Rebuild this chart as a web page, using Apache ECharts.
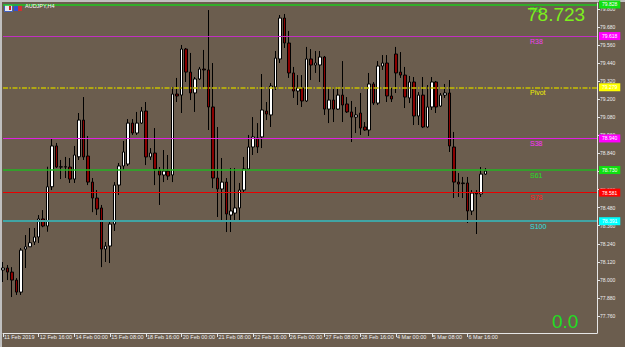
<!DOCTYPE html>
<html><head><meta charset="utf-8">
<script src="https://cdn.jsdelivr.net/npm/echarts@6/dist/echarts.min.js"></script>
<style>html,body{margin:0;padding:0;background:#6b5d4e;}#c{width:625px;height:347px;}</style>
</head><body><div id="c"></div>
<script>
const symbolName = 'AUDJPY,H4';
const timeLabels = ['11 Feb 2019','12 Feb 16:00','14 Feb 00:00','15 Feb 08:00','18 Feb 16:00','20 Feb 00:00','21 Feb 08:00','22 Feb 16:00','26 Feb 00:00','27 Feb 08:00','28 Feb 16:00','4 Mar 00:00','5 Mar 08:00','6 Mar 16:00'];
const barsPerLabel = 8;
const slotCount = 134;
const opens = [78.066,78.079,78.052,77.999,77.919,78.205,78.220,78.252,78.285,78.405,78.358,78.619,78.890,78.750,78.752,78.750,78.670,78.818,79.062,78.823,78.650,78.544,78.478,78.205,78.225,78.371,78.630,78.757,78.770,79.042,78.976,79.042,79.122,78.817,78.843,78.730,78.697,78.723,78.697,79.235,79.228,79.534,79.381,79.242,79.335,79.401,79.395,79.149,78.677,78.604,78.650,78.431,78.444,78.478,78.597,78.737,78.883,78.943,78.950,79.122,79.096,79.282,79.468,79.740,79.574,79.375,79.255,79.275,79.189,79.468,79.428,79.428,79.481,79.135,79.195,79.135,79.228,79.169,79.116,79.082,79.109,79.016,78.996,79.302,79.175,79.421,79.441,79.222,79.501,79.381,79.361,79.209,79.315,79.089,79.228,79.016,79.149,79.315,79.155,79.228,79.242,78.883,78.650,78.644,78.644,78.458,78.577,78.571,78.703];
const closes = [78.079,78.052,77.999,77.919,78.198,78.220,78.247,78.285,78.405,78.358,78.619,78.890,78.750,78.752,78.750,78.670,78.830,79.062,78.817,78.650,78.544,78.471,78.205,78.225,78.371,78.630,78.757,78.850,79.042,78.976,79.042,79.122,78.817,78.843,78.737,78.697,78.723,78.690,79.235,79.222,79.534,79.381,79.242,79.335,79.401,79.395,79.149,78.677,78.604,78.650,78.438,78.458,78.478,78.597,78.737,78.883,78.950,78.883,79.129,79.102,79.288,79.474,79.740,79.574,79.375,79.255,79.275,79.189,79.468,79.428,79.441,79.481,79.135,79.195,79.135,79.228,79.162,79.116,79.082,79.096,79.009,78.996,79.302,79.175,79.421,79.441,79.222,79.202,79.375,79.361,79.215,79.315,79.089,79.228,79.016,79.149,79.315,79.149,79.228,79.242,78.890,78.650,78.637,78.640,78.458,78.577,78.571,78.703,78.723];
const lows = [77.986,77.999,77.886,77.900,77.900,78.079,78.219,78.232,78.245,78.350,78.320,78.597,78.743,78.670,78.677,78.644,78.644,78.797,78.797,78.630,78.450,78.431,78.085,78.119,78.112,78.325,78.564,78.730,78.757,78.963,78.963,79.036,78.763,78.797,78.630,78.498,78.650,78.664,78.650,79.182,79.109,79.315,79.195,79.116,79.328,79.275,78.996,78.610,78.418,78.398,78.318,78.318,78.385,78.398,78.584,78.730,78.830,78.843,78.876,79.062,79.016,79.262,79.441,79.541,79.342,79.209,79.162,79.149,79.182,79.328,79.375,79.315,79.096,79.042,79.049,79.129,79.049,79.109,78.916,78.976,78.963,78.990,78.956,79.162,79.162,79.395,79.182,79.182,79.242,79.342,79.142,79.175,79.029,79.029,79.009,79.009,79.129,79.109,79.149,79.209,78.850,78.544,78.551,78.544,78.378,78.431,78.305,78.551,78.697];
const highs = [78.119,78.099,78.085,78.012,78.212,78.298,78.345,78.345,78.431,78.464,78.752,78.936,78.910,78.797,78.817,78.810,78.890,79.109,79.215,78.956,78.677,78.597,78.498,78.252,78.398,78.650,78.777,78.923,79.069,79.069,79.116,79.149,79.182,78.876,79.009,78.750,78.863,78.830,79.282,79.342,79.561,79.541,79.508,79.348,79.415,79.528,79.793,79.441,79.016,78.810,78.677,78.743,78.743,78.644,78.817,78.963,79.082,79.042,79.368,79.182,79.308,79.521,79.760,79.767,79.654,79.415,79.361,79.361,79.548,79.534,79.521,79.521,79.488,79.282,79.282,79.282,79.454,79.215,79.189,79.149,79.242,79.049,79.375,79.315,79.454,79.494,79.494,79.275,79.548,79.514,79.415,79.355,79.348,79.248,79.348,79.295,79.348,79.322,79.242,79.302,79.328,78.983,78.710,78.684,78.684,78.597,78.597,78.750,78.743];
const levelNames = ['R61','R38','Pivot','S38','S61','S78','S100'];
const levelValues = [79.828,79.618,79.279,78.940,78.730,78.581,78.391];
const levelLineColors = ['#1ec81e','#c030c0','#c8c000','#e020e0','#22b422','#e80000','#40a4a4'];
const levelBoxColors = ['#10e010','#ff00ff','#ffff00','#ff00ff','#10e010','#ff0000','#00ffff'];
const levelTextColors = ['#22e022','#f040f0','#f0f000','#ff30ff','#22e022','#ff2020','#30e0e0'];
const levelWidths = [1.5,1,1.5,1,1.5,1,2];
const yTicks = [79.800,79.680,79.560,79.440,79.320,79.200,79.080,78.960,78.840,78.720,78.600,78.480,78.360,78.240,78.120,78.000,77.880,77.760];
const sideValue = '0.0';

const FONT = 'Liberation Sans, Arial, sans-serif';
const cats = [];
for (let i = 0; i < slotCount; i++) cats.push(String(i));
const candleData = opens.map((o, i) => [o, closes[i], lows[i], highs[i]]);
const labelLimit = barsPerLabel * timeLabels.length;

const chart = echarts.init(document.getElementById('c'), null, {renderer: 'svg'});
chart.setOption({
  animation: false,
  backgroundColor: '#6b5d4e',
  title: [
    {text: symbolName, left: 25, top: 3, padding: 0, textStyle: {color: '#ffffff', fontSize: 5.5, fontWeight: 'normal', fontFamily: FONT}},
    {text: closes[closes.length - 1].toFixed(3), left: 527, top: 5, padding: 0, textStyle: {color: '#7cf01c', fontSize: 19, fontWeight: 'normal', fontFamily: FONT}},
    {text: sideValue, left: 552, top: 312, padding: 0, textStyle: {color: '#22dd22', fontSize: 19, fontWeight: 'normal', fontFamily: FONT}}
  ],
  graphic: [
    {type: 'rect', left: 0, top: 0, shape: {width: 625, height: 2}, style: {fill: '#c0c0c0'}},
    {type: 'rect', left: 0, top: 0, shape: {width: 2, height: 347}, style: {fill: '#c0c0c0'}},
    {type: 'rect', left: 4, top: 4, shape: {width: 8, height: 7}, style: {fill: '#e8e8f0', stroke: '#4060c0', lineWidth: 1}},
    {type: 'rect', left: 9, top: 6, shape: {width: 2, height: 4}, style: {fill: '#d02020'}},
    {type: 'rect', left: 14, top: 4, shape: {width: 5, height: 7}, style: {fill: '#3050d0'}},
    {type: 'rect', left: 18, top: 5, shape: {width: 4, height: 6}, style: {fill: '#d03030'}}
  ],
  grid: {left: 3, right: 28, top: 3, bottom: 14},
  xAxis: {
    type: 'category', data: cats, boundaryGap: false,
    axisLine: {lineStyle: {color: '#e6e6e6', width: 1}},
    axisTick: {show: true, length: 4, interval: (i) => i % barsPerLabel === 0 && i < labelLimit, lineStyle: {color: '#e6e6e6'}},
    axisLabel: {
      interval: (i) => i % barsPerLabel === 0 && i < labelLimit,
      align: 'left', fontSize: 5.5, color: '#eeeeee', margin: 1, padding: [0, 0, 0, 1], fontFamily: FONT,
      formatter: (v, i) => (i % barsPerLabel === 0 && i < labelLimit) ? timeLabels[i / barsPerLabel] : ''
    },
    splitLine: {show: false}
  },
  yAxis: {
    type: 'value', position: 'right', min: 77.6472, max: 79.8399, scale: true,
    axisLine: {show: true, lineStyle: {color: '#e6e6e6'}},
    axisTick: {show: true, length: 3, customValues: yTicks, lineStyle: {color: '#e6e6e6'}},
    axisLabel: {customValues: yTicks, fontSize: 5, color: '#eeeeee', margin: 3, fontFamily: FONT, formatter: (v) => v.toFixed(3)},
    splitLine: {show: false}
  },
  series: [
    {
      type: 'candlestick', data: candleData, barWidth: 3,
      itemStyle: {color: '#ffffff', color0: '#8b0000', borderColor: '#000000', borderColor0: '#000000', borderWidth: 1},
      markLine: {
        symbol: 'none', silent: true, animation: false,
        data: levelValues.map((v, k) => ({
          yAxis: v,
          lineStyle: {color: levelLineColors[k], width: levelWidths[k], type: k === 2 ? [5, 1.5, 1.5, 1.5] : 'solid', opacity: 1},
          label: {show: true, position: 'end', distance: 2, formatter: v.toFixed(3), backgroundColor: levelBoxColors[k], color: '#ffffff', fontSize: 5, fontFamily: FONT, padding: [1.5, 3]}
        }))
      }
    },
    {
      type: 'scatter', symbolSize: 0, silent: true,
      data: levelValues.map((v, k) => ({
        value: [118, v],
        itemStyle: {color: levelTextColors[k], opacity: 1},
        label: {color: levelTextColors[k]}
      })),
      label: {show: true, position: [0, 1.5], align: 'left', verticalAlign: 'top', fontSize: 7, fontFamily: FONT, opacity: 1, textBorderWidth: 0, formatter: (p) => levelNames[p.dataIndex]},
      emphasis: {disabled: true}
    }
  ]
});
</script></body></html>
